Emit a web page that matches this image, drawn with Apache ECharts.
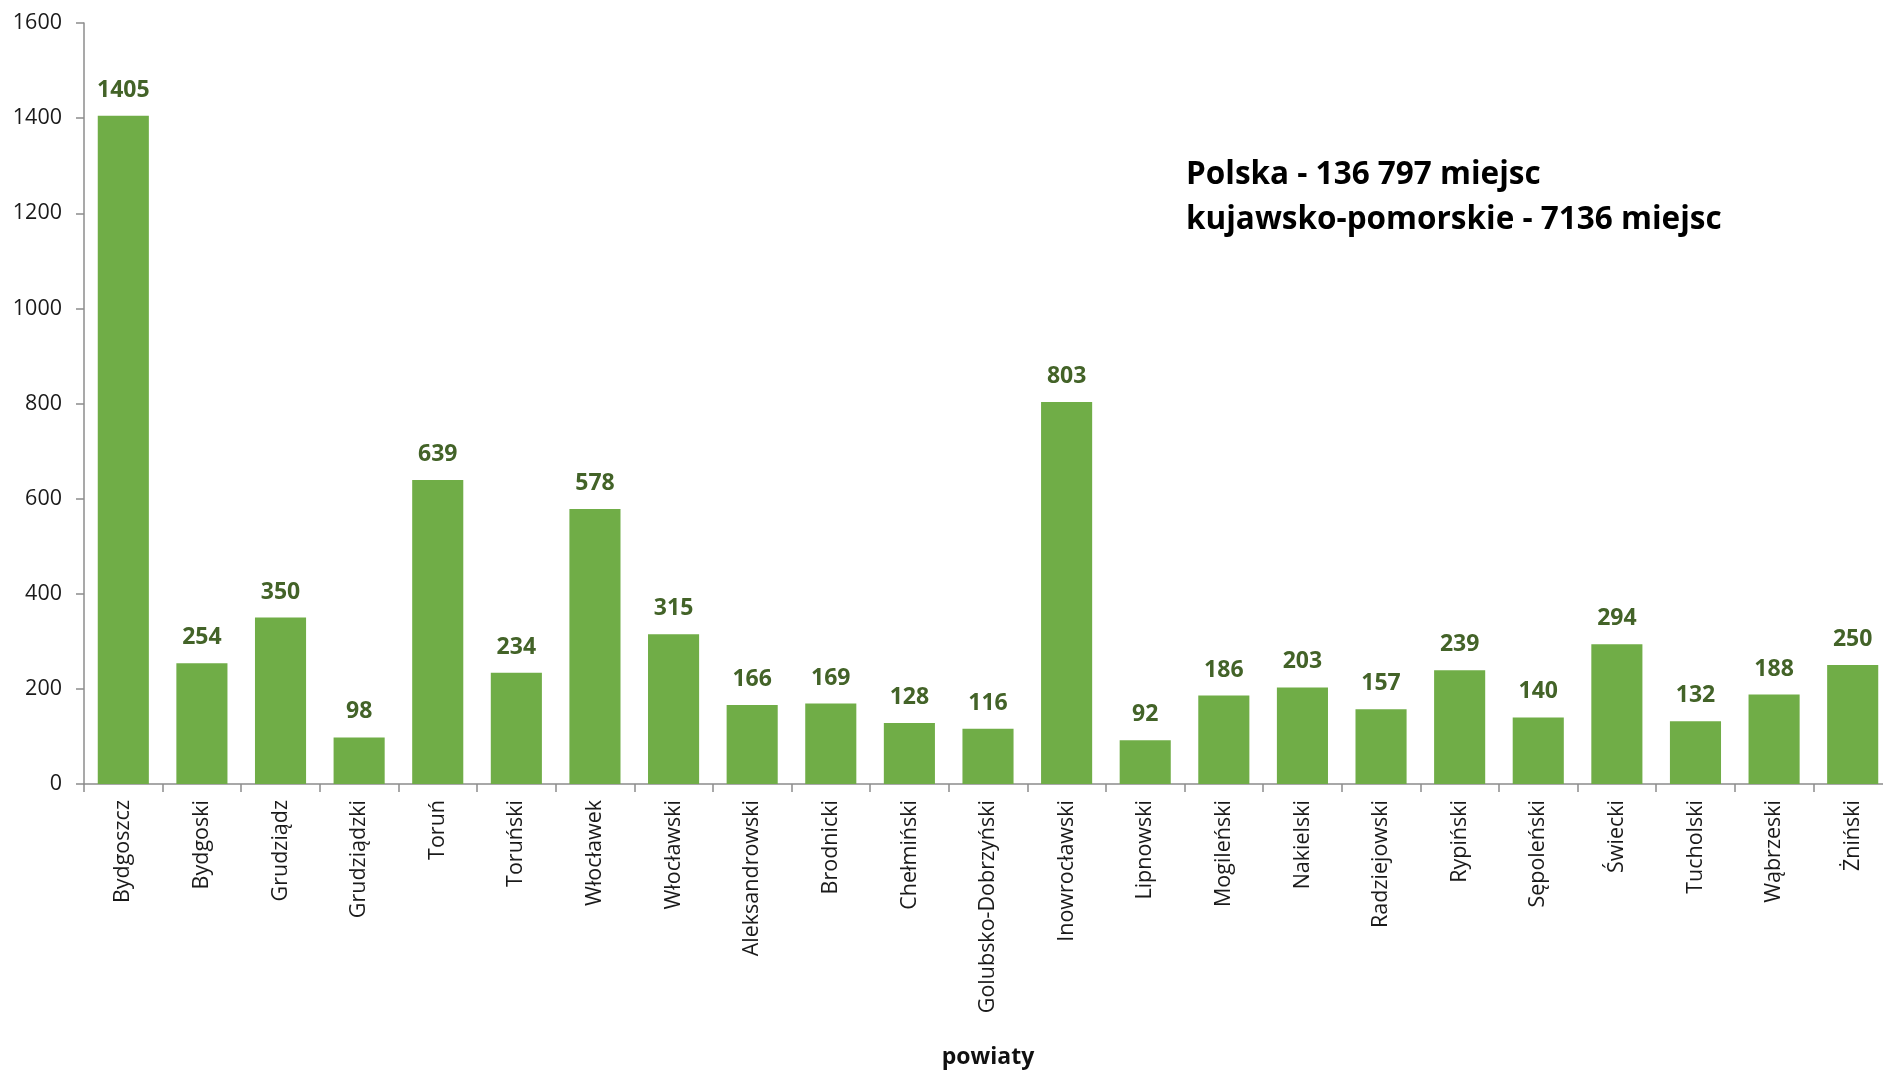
<!DOCTYPE html>
<html>
<head>
<meta charset="utf-8">
<script src="https://cdn.jsdelivr.net/npm/echarts@6/dist/echarts.min.js"></script>
<style>html,body{margin:0;padding:0;background:#fff}#c{width:1883px;height:1073px}</style>
</head>
<body>
<div id="c"></div>
<script>
const categories = ["Bydgoszcz","Bydgoski","Grudziądz","Grudziądzki","Toruń","Toruński","Włocławek","Włocławski","Aleksandrowski","Brodnicki","Chełmiński","Golubsko-Dobrzyński","Inowrocławski","Lipnowski","Mogileński","Nakielski","Radziejowski","Rypiński","Sępoleński","Świecki","Tucholski","Wąbrzeski","Żniński"];
const values = [1405,254,350,98,639,234,578,315,166,169,128,116,803,92,186,203,157,239,140,294,132,188,250];
const yTicks = {min:0, max:1600, interval:200};
const axisName = "powiaty";
const notes = ["Polska - 136 797 miejsc", "kujawsko-pomorskie - 7136 miejsc"];

const FONT = "'Open Sans', Lato, sans-serif";
const chart = echarts.init(document.getElementById('c'));
chart.setOption({
  animation: false,
  backgroundColor: '#fff',
  grid: {left: 84, top: 23, bottom: 289, right: -9, containLabel: false, outerBoundsMode: 'none'},
  xAxis: {
    type: 'category',
    data: categories,
    name: axisName,
    nameLocation: 'middle',
    nameGap: 262,
    nameMoveOverlap: false,
    nameTextStyle: {fontFamily: FONT, fontSize: 23, fontWeight: 'bold', color: '#111'},
    axisLine: {lineStyle: {color: '#8c8c8c', width: 1.5}},
    axisTick: {show: true, length: 8, lineStyle: {color: '#8c8c8c', width: 1.5}},
    axisLabel: {rotate: 90, interval: 0, margin: 16, fontFamily: FONT, fontSize: 21.5, color: '#1a1a1a'}
  },
  yAxis: {
    type: 'value',
    min: yTicks.min, max: yTicks.max, interval: yTicks.interval,
    splitLine: {show: false},
    axisLine: {show: true, lineStyle: {color: '#8c8c8c', width: 1.5}},
    axisTick: {show: true, length: 8, lineStyle: {color: '#8c8c8c', width: 1.5}},
    axisLabel: {margin: 22, fontFamily: FONT, fontSize: 21.5, color: '#1a1a1a', formatter: v => String(v)}
  },
  series: [{
    type: 'bar',
    data: values,
    barCategoryGap: '35%',
    itemStyle: {color: '#70AD47'},
    label: {show: true, position: 'top', distance: 14, fontFamily: FONT, fontSize: 23, fontWeight: 'bold', color: '#436328'}
  }],
  graphic: [
    {type: 'text', left: 1186, top: 159, style: {text: notes[0], font: "bold 31.5px " + FONT, fill: '#000'}},
    {type: 'text', left: 1186, top: 204, style: {text: notes[1], font: "bold 31.5px " + FONT, fill: '#000'}}
  ]
});
</script>
</body>
</html>
